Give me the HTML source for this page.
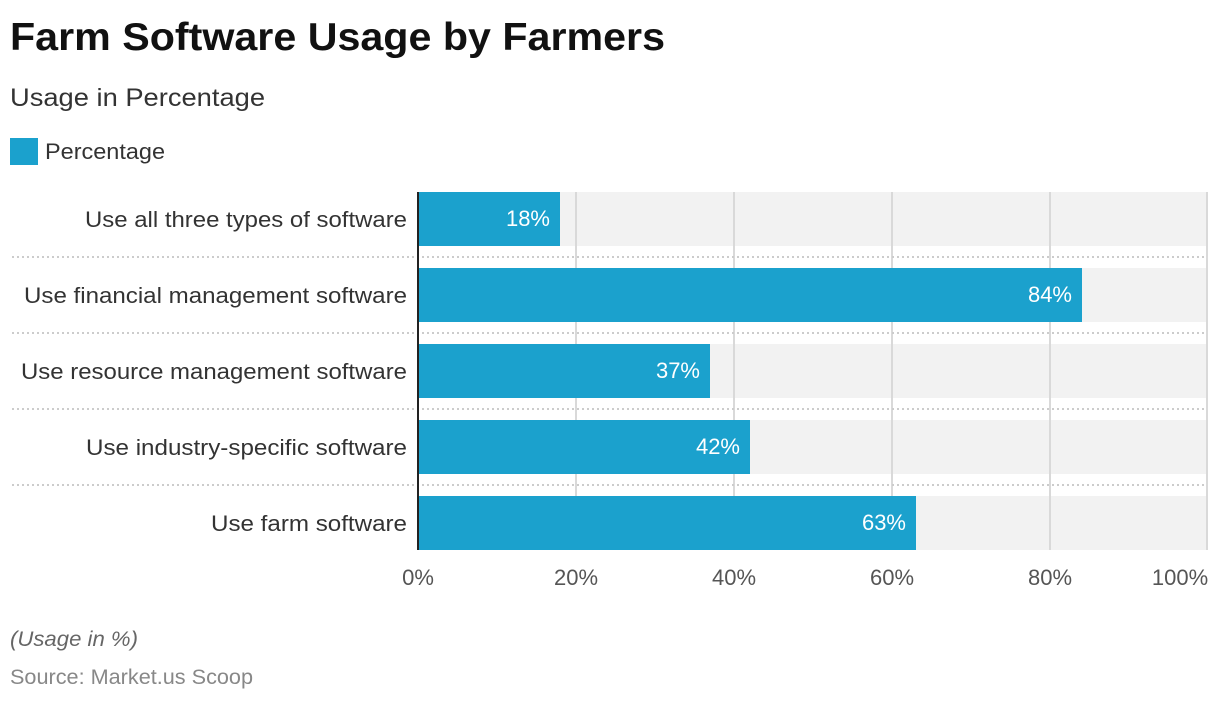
<!DOCTYPE html>
<html><head><style>
body{margin:0;background:#fff;}
svg text{font-family:"Liberation Sans",sans-serif;}
</style></head><body>
<svg width="1220" height="702" xmlns="http://www.w3.org/2000/svg">
<text x="10" y="50" font-size="39" font-weight="bold" fill="#111" textLength="655" lengthAdjust="spacingAndGlyphs">Farm Software Usage by Farmers</text>
<text x="10" y="106" font-size="25" fill="#333" textLength="255" lengthAdjust="spacingAndGlyphs">Usage in Percentage</text>
<rect x="10" y="138" width="28" height="27" fill="#1ba1cd"/>
<text x="45" y="159" font-size="22" fill="#333" textLength="120" lengthAdjust="spacingAndGlyphs">Percentage</text>
<g fill="#f2f2f2">
<rect x="418" y="192" width="790" height="54"/>
<rect x="418" y="268" width="790" height="54"/>
<rect x="418" y="344" width="790" height="54"/>
<rect x="418" y="420" width="790" height="54"/>
<rect x="418" y="496" width="790" height="54"/>
</g>
<g stroke="#d9d9d9" stroke-width="2">
<line x1="576" y1="192" x2="576" y2="550"/>
<line x1="734" y1="192" x2="734" y2="550"/>
<line x1="892" y1="192" x2="892" y2="550"/>
<line x1="1050" y1="192" x2="1050" y2="550"/>
<line x1="1207" y1="192" x2="1207" y2="550"/>
</g>
<g stroke="#ccc" stroke-width="2" stroke-dasharray="2,3">
<line x1="12" y1="257" x2="1207" y2="257"/>
<line x1="12" y1="333" x2="1207" y2="333"/>
<line x1="12" y1="409" x2="1207" y2="409"/>
<line x1="12" y1="485" x2="1207" y2="485"/>
</g>
<g fill="#1ba1cd">
<rect x="418" y="192" width="142" height="54"/>
<rect x="418" y="268" width="664" height="54"/>
<rect x="418" y="344" width="292" height="54"/>
<rect x="418" y="420" width="332" height="54"/>
<rect x="418" y="496" width="498" height="54"/>
</g>
<line x1="418" y1="192" x2="418" y2="550" stroke="#222" stroke-width="2"/>
<g font-size="22" fill="#fff" text-anchor="end">
<text x="550" y="226">18%</text>
<text x="1072" y="302">84%</text>
<text x="700" y="378">37%</text>
<text x="740" y="454">42%</text>
<text x="906" y="530">63%</text>
</g>
<g font-size="22" fill="#333" lengthAdjust="spacingAndGlyphs">
<text x="85" y="227" textLength="322" lengthAdjust="spacingAndGlyphs">Use all three types of software</text>
<text x="24" y="303" textLength="383" lengthAdjust="spacingAndGlyphs">Use financial management software</text>
<text x="21" y="379" textLength="386" lengthAdjust="spacingAndGlyphs">Use resource management software</text>
<text x="86" y="455" textLength="321" lengthAdjust="spacingAndGlyphs">Use industry-specific software</text>
<text x="211" y="531" textLength="196" lengthAdjust="spacingAndGlyphs">Use farm software</text>
</g>
<g font-size="22" fill="#555" text-anchor="middle">
<text x="418" y="585">0%</text>
<text x="576" y="585">20%</text>
<text x="734" y="585">40%</text>
<text x="892" y="585">60%</text>
<text x="1050" y="585">80%</text>
<text x="1180" y="585">100%</text>
</g>
<text x="10" y="646" font-size="21" font-style="italic" fill="#666" textLength="128" lengthAdjust="spacingAndGlyphs">(Usage in %)</text>
<text x="10" y="684" font-size="21" fill="#888" textLength="243" lengthAdjust="spacingAndGlyphs">Source: Market.us Scoop</text>
</svg>
</body></html>
